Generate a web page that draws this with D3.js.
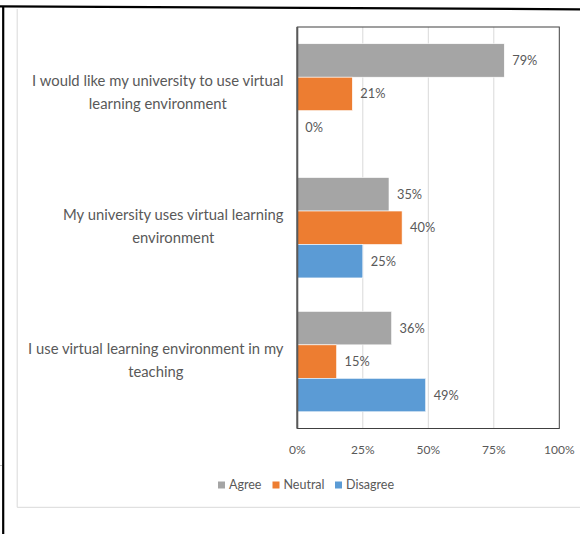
<!DOCTYPE html>
<meta charset="utf-8">
<script src="https://d3js.org/d3.v7.min.js"></script>
<style>
  body { margin: 0; background: #fff; }
  svg { display: block; }
  .lbl { font-family: Lato, "Open Sans", sans-serif; fill: #595959; }
</style>
<body>
<div id="chart"></div>
<script>

var categories = [
  "I would like my university to use virtual learning environment",
  "My university uses virtual learning environment",
  "I use virtual learning environment in my teaching"
];
// wrapped like the original labels
var categoryLines = [
  ["I would like my university to use virtual", "learning environment"],
  ["My university uses virtual learning", "environment"],
  ["I use virtual learning environment in my", "teaching"]
];
var seriesNames = ["Agree", "Neutral", "Disagree"];
var agree = [79, 35, 36];
var neutral = [21, 40, 15];
var disagree = [0, 25, 49];
var ticks = [0, 25, 50, 75, 100];
var colors = ["#A5A5A5", "#ED7D31", "#5B9BD5"];

var W = 580, H = 534;
var plot = {left: 297.3, right: 559.3, top: 27, bottom: 428.5};

var svg = d3.select("#chart").append("svg")
  .attr("width", W).attr("height", H);

// outer frame (black) and inner chart frame (light gray)
svg.append("line").attr("x1", 0).attr("y1", 6.4).attr("x2", W).attr("y2", 9.3)
  .attr("stroke", "#000").attr("stroke-width", 2.2);
svg.append("line").attr("x1", 3.2).attr("y1", 6).attr("x2", 3.2).attr("y2", H)
  .attr("stroke", "#000").attr("stroke-width", 2.2);
svg.append("line").attr("x1", 0).attr("y1", 465.5).attr("x2", 2).attr("y2", 465.5)
  .attr("stroke", "#bfbfbf").attr("stroke-width", 1);
svg.append("path")
  .attr("d", "M17.2,9 V507.3 H" + W)
  .attr("fill", "none").attr("stroke", "#d9d9d9").attr("stroke-width", 1);

var x = d3.scaleLinear().domain([0, 100]).range([plot.left, plot.right]);
var y = d3.scaleBand().domain(categories).range([plot.top, plot.bottom])
  .paddingInner(0.25).paddingOuter(0.125);
var ySub = d3.scaleBand().domain(seriesNames).range([0, y.bandwidth()]);

// gridlines
svg.append("g").selectAll("line").data(ticks.slice(1, -1)).join("line")
  .attr("x1", d => x(d)).attr("x2", d => x(d))
  .attr("y1", plot.top).attr("y2", plot.bottom)
  .attr("stroke", "#d9d9d9").attr("stroke-width", 1);

// bars
var rows = [];
categories.forEach(function(c, i) {
  [agree, neutral, disagree].forEach(function(arr, j) {
    rows.push({cat: c, series: seriesNames[j], value: arr[i], color: colors[j]});
  });
});

svg.append("g").selectAll("rect").data(rows).join("rect")
  .attr("x", x(0))
  .attr("y", d => y(d.cat) + ySub(d.series))
  .attr("width", d => x(d.value) - x(0))
  .attr("height", ySub.bandwidth())
  .attr("fill", d => d.color)
  .attr("stroke", "#fff").attr("stroke-width", 0.6);

svg.append("g").selectAll("text").data(rows).join("text")
  .attr("class", "lbl")
  .attr("x", d => x(d.value) + 8)
  .attr("y", d => y(d.cat) + ySub(d.series) + ySub.bandwidth() / 2)
  .attr("dy", "0.35em")
  .style("font-size", "12.8px")
  .text(d => d.value + "%");

// plot border
svg.append("rect")
  .attr("x", plot.left).attr("y", plot.top)
  .attr("width", plot.right - plot.left).attr("height", plot.bottom - plot.top)
  .attr("fill", "none").attr("stroke", "#404040").attr("stroke-width", 1);
svg.append("line").attr("x1", plot.left).attr("x2", plot.left)
  .attr("y1", plot.top).attr("y2", plot.bottom)
  .attr("stroke", "#595959").attr("stroke-width", 2);

// x axis labels
svg.append("g").selectAll("text").data(ticks).join("text")
  .attr("class", "lbl")
  .attr("x", d => x(d)).attr("y", 450)
  .attr("dy", "0.35em")
  .attr("text-anchor", "middle")
  .style("font-size", "12px")
  .text(d => d + "%");

// category labels: block right-aligned at the axis, lines centred in block
var labelRight = 283.5, lineH = 22.5;
categories.forEach(function(c, i) {
  var g = svg.append("g");
  var lines = categoryLines[i];
  var texts = g.selectAll("text").data(lines).join("text")
    .attr("class", "lbl")
    .style("font-size", "14.8px")
    .attr("text-anchor", "middle")
    .attr("dy", "0.35em")
    .text(d => d);
  var maxW = 0;
  texts.each(function() { maxW = Math.max(maxW, this.getComputedTextLength()); });
  var cy = y(c) + y.bandwidth() / 2 - 1.5;
  texts.attr("x", labelRight - maxW / 2)
    .attr("y", (d, k) => cy + (k - (lines.length - 1) / 2) * lineH);
});

// legend
var legendX = [218, 272.5, 335];
var lg = svg.append("g").selectAll("g").data(seriesNames).join("g")
  .attr("transform", (d, i) => "translate(" + legendX[i] + ",485)");
lg.append("rect").attr("x", 0).attr("y", -3.5).attr("width", 7).attr("height", 7)
  .attr("fill", (d, i) => colors[i]);
lg.append("text").attr("class", "lbl")
  .attr("x", 11).attr("dy", "0.35em")
  .style("font-size", "12.5px")
  .text(d => d);

</script>
</body>
